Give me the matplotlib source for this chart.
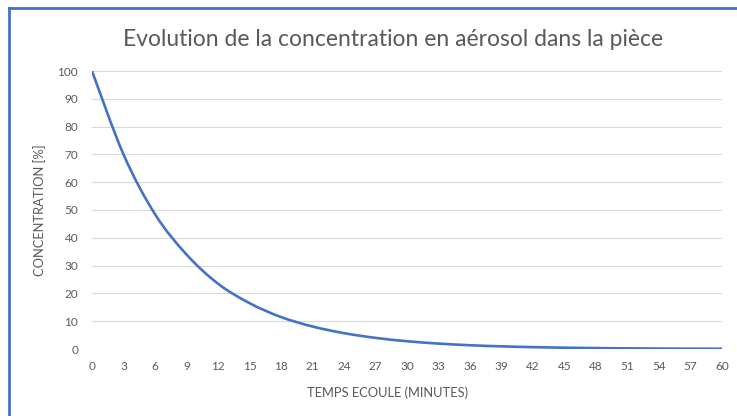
import matplotlib
matplotlib.use("Agg")
import matplotlib.pyplot as plt
from matplotlib.lines import Line2D
from matplotlib.path import Path
from matplotlib.patches import PathPatch

plt.rcParams['font.family'] = ['Lato', 'DejaVu Sans']

minutes = [0, 3, 6, 9, 12, 15, 18, 21, 24, 27, 30, 33, 36, 39, 42, 45, 48, 51, 54, 57, 60]
concentration = [100, 70, 48.5, 34, 23.5, 16.5, 11.5, 8.1, 5.7, 4.0, 2.8, 1.95, 1.35,
                 0.95, 0.67, 0.47, 0.33, 0.23, 0.16, 0.11, 0.08]
y_ticks = list(range(0, 101, 10))
title = "Evolution de la concentration en aérosol dans la pièce"
xlabel = "TEMPS ECOULE (MINUTES)"
ylabel = "CONCENTRATION [%]"

txt = "#595959"
fig = plt.figure(figsize=(7.37, 4.16), dpi=100)
ax = fig.add_axes([92/737, 1-349/416, (722-92)/737, (349-71)/416])

# smoothed line (Excel-like) drawn as cubic Bezier through the data points
n = len(minutes)
verts = [(minutes[0], concentration[0])]
codes = [Path.MOVETO]
for i in range(n - 1):
    x0, y0 = minutes[max(i - 1, 0)], concentration[max(i - 1, 0)]
    x1, y1 = minutes[i], concentration[i]
    x2, y2 = minutes[i + 1], concentration[i + 1]
    x3, y3 = minutes[min(i + 2, n - 1)], concentration[min(i + 2, n - 1)]
    c1 = (x1 + (x2 - x0) / 6, y1 + (y2 - y0) / 6)
    c2 = (x2 - (x3 - x1) / 6, y2 - (y3 - y1) / 6)
    verts += [c1, c2, (x2, y2)]
    codes += [Path.CURVE4] * 3
ax.add_patch(PathPatch(Path(verts, codes), facecolor="none", edgecolor="#4472C4",
                       lw=1.9, capstyle="round", zorder=3))

ax.set_xlim(0, 60)
ax.set_ylim(0, 100)
ax.set_xticks(minutes)
ax.set_yticks(y_ticks)
ax.grid(axis="y", color="#D9D9D9", lw=0.8)
ax.set_axisbelow(True)
for s in ax.spines.values():
    s.set_visible(False)
ax.tick_params(axis="both", length=0, labelsize=8.5, labelcolor=txt)
ax.tick_params(axis="y", pad=10)
ax.tick_params(axis="x", pad=9)

fig.text(393/737, 1-40/416, title, ha="center", va="center", fontsize=16.5, color=txt)
fig.text(388/737, 1-393/416, xlabel, ha="center", va="center", fontsize=9.3, color=txt)
fig.text(40/737, 1-210/416, ylabel, ha="center", va="center", rotation=90, fontsize=9.3, color=txt)

# partial frame (blue border visible on top and left)
fig.add_artist(Line2D([9/737, 1], [1-8/416, 1-8/416], transform=fig.transFigure, color="#4472C4", lw=2))
fig.add_artist(Line2D([9/737, 9/737], [0, 1-8/416], transform=fig.transFigure, color="#4472C4", lw=2))

fig.savefig("out.png", dpi=100, facecolor="white")
